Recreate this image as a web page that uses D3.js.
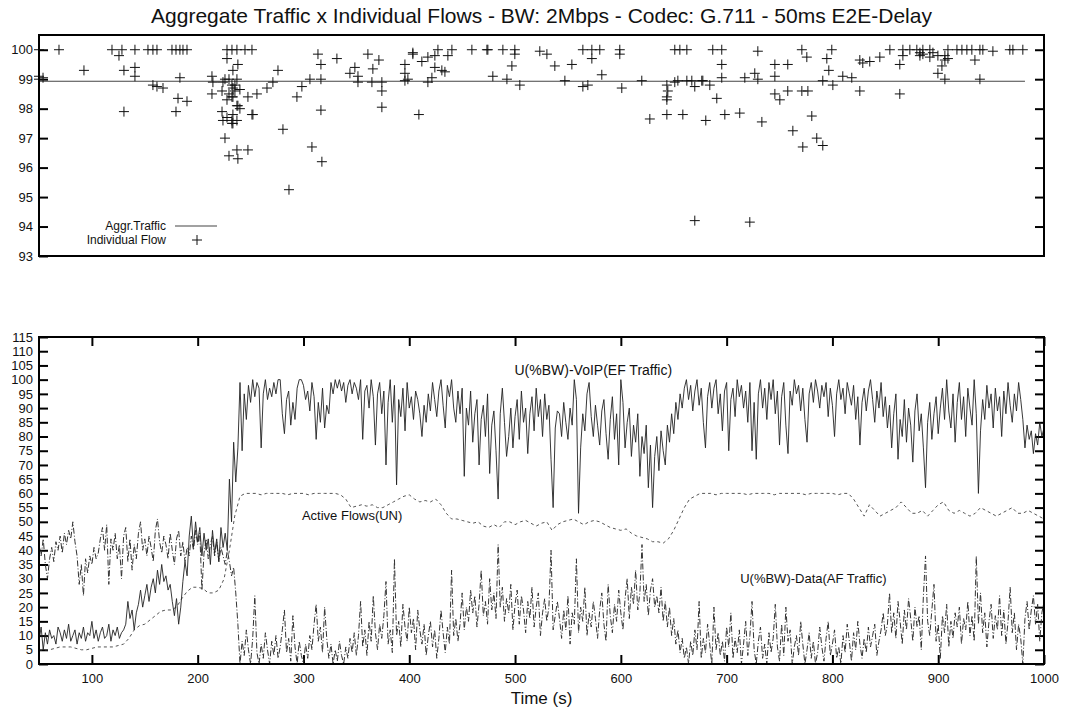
<!DOCTYPE html>
<html>
<head>
<meta charset="utf-8">
<script src="https://cdn.jsdelivr.net/npm/d3@7"></script>
<style>
  body { margin: 0; background: #fff; }
  svg { display: block; font-family: "Liberation Sans", Arial, Helvetica, sans-serif; }
</style>
</head>
<body>
<svg id="chart" width="1083" height="713"></svg>
<script>
// ---------------- data ----------------
const chartTitle = "Aggregate Traffic x Individual Flows - BW: 2Mbps - Codec: G.711 - 50ms E2E-Delay";
const timeStart = 50;
const sampleStep = 2;   // seconds between utilisation samples
const flowStep = 5;     // seconds between active-flow samples

// U(%BW) of VoIP (EF) traffic, one value every 2 s from t = 50 s
const voipUtil = [
  8,13,5,11,7,12,9,10,7,13, 11,8,12,9,14,8,10,12,7,11, 9,13,8,11,10,15,9,12,8,11, 13,9,10,14,8,12,10,13,9,11, 12,
  14,22,16,19,12,18,21,26,20,24, 28,22,27,30,25,33,28,35,29,31, 26,28,22,17,23,14,20,29,36,31, 45,52,41,50,43,48,38,46,40,44, 35,47,39,44,36,48,41,46,40,
  65,50,78,64,76,99,75,95,86,98,92,
  100,94,99,97,76,95,100,93,97,94, 99,95,100,100,88,81,93,96,84,92, 86,97,100,100,98,93,96,89,99,94, 79,92,85,97,83,91,88,99,95,100,
  97,100,96,99,92,98,100,95,99,97, 93,100,79,96,98,90,100,94,77,95, 99,88,96,70,92,100,85,98,63,93, 87,97,82,99,90,94,86,96,93,88,
  80,91,85,95,89,99,93,87,96,100, 91,83,98,94,100,90,85,96,88,97,
  66,90,84,96,78,88,93,70,86,91, 80,95,67,84,89,75,58,88,97,85, 73,80,90,76,87,93,79,96,85,90, 74,88,94,82,97,87,93,80,95,86, 91,72,55,83,89,
  88,80,92,85,79,90,84,100,93,53, 76,88,82,95,99,87,80,91,84,77, 89,93,81,72,86,94,79,88,70,100, 92,76,85,90,73,84,78,88,66,80, 74,84,62,77,55,73,80,68,82,75, 70,84,78,88,81,92,86,95,90,97,
  100,93,98,89,96,100,91,97,85,76, 94,99,90,97,100,88,95,82,96,99, 75,93,97,87,100,94,98,90,96,85, 99,75,92,72,95,100,90,97,86,99,
  93,100,88,96,77,94,99,84,74,96, 91,100,95,98,89,97,86,78,95,99, 92,100,96,90,98,94,99,87,97,91, 80,95,100,93,97,88,99,95,91,98,
  86,94,77,92,97,89,96,100,93,85, 96,90,99,87,94,
  83,91,76,88,95,72,86,80,93,78, 90,84,71,89,95,82,88,76,62,85, 92,79,88,94,81,90,97,86,100,89, 83,95,78,92,99,86,94,80,97,90,
  84,100,88,60,82,93,86,98,90,95, 83,97,89,94,80,96,88,99,91,85, 95,89,99,93,86,76,84,79,82,74, 81,77,85,80,83
];

// U(%BW) of data (AF) traffic, one value every 2 s from t = 50 s
const dataUtil = [
  42,38,44,35,30,37,41,36,43,40, 45,39,46,42,47,44,50,43,38,28, 35,24,37,32,38,35,41,37,39,44, 48,40,49,28,44,40,46,37,42,30,45,
  48,36,44,33,42,37,46,50,40,44, 38,45,41,36,47,51,43,39,45,42, 37,46,40,35,44,47,38,43,36,41, 38,45,40,47,42,46,26,39,44,37, 42,45,38,43,36,41,38,35,40,36, 31,34,25,
  14,0,8,3,12,5,0,9,24,4, 0,7,2,11,5,0,8,3,10,2, 6,12,19,4,9,1,17,6,0,8, 3,0,7,2,10,5,14,21,8,13, 4,20,9,2,7,0,5,1,8,3, 0,6,2,9,4,11,3,
  10,22,6,12,3,15,8,24,11,5, 14,9,17,29,7,12,4,37,10,15, 6,21,13,8,20,11,16,5,19,12, 7,14,3,10,15,6,12,2,9,19, 11,4,13,7,33,10,16,8,14,25,
  12,20,15,26,18,24,13,21,33,17, 22,14,30,19,25,16,42,20,27,15, 23,18,28,12,21,26,14,24,19,11, 22,16,27,13,20,25,10,18,23,15, 20,40,12,17,22,
  16,9,19,12,24,7,18,14,37,11, 20,15,27,10,18,13,22,16,9,19, 25,14,8,28,17,11,21,15,26,18, 12,23,30,16,27,21,33,19,25,42, 22,28,17,26,30,20,24,18,27,15, 22,13,20,10,16,7,12,4,9,2,
  6,0,8,3,12,5,22,2,9,4, 14,7,0,20,5,11,3,8,1,13, 6,18,2,9,4,12,0,7,15,3, 10,22,5,0,8,13,2,7,0,11, 4,9,21,6,1,14,3,20,8,12,
  0,6,10,3,15,7,0,5,11,2, 8,0,4,13,6,1,9,15,3,7, 12,2,6,0,10,4,14,8,1,11, 5,15,7,2,9,4,13,6,10,14, 3,8,12,18,10,
  14,25,11,18,9,22,15,7,19,12, 23,16,8,20,13,17,5,24,38,15, 10,19,28,8,14,2,17,11,21,6, 15,9,18,13,20,7,16,12,22,10,
  17,8,38,14,25,11,18,6,15,21, 9,17,12,24,10,19,7,15,27,11, 18,5,14,9,0,16,22,12,19,24, 14,21,8,18,22
];

// Number of active flows (UN), one value every 5 s from t = 50 s
const activeFlows = [
  5,5,5,5.5,6,6,6,5.5,5,5, 5.5,6,6,6,6,6.5,7,9,12,13.5, 14,15.5,17,18.5,19,19,20,23,25.5,27, 27,26.5,25,25,26,30,40,52,59,60,
  60,60,59.5,60,60,60,60,59.5,60,60, 60,59.5,60,60,60,60,60,59.5,
  58,55,55.5,56,55.5,56,55,55,56,57, 58,59,59.5,58,57,57.5,57,58,56,53, 51,51,50.5,50,49.5,50,48.5,48,49,48, 50,50,49,50,50.5,49.5,48.5,49.5,50,47,
  49,50,50.5,51,50,49,50,50.5,50,49, 48,47.5,47,47.5,46,45,44.5,44,43,43, 42.5,44,47,51,55,58,59,60,
  60,60,59.5,60,60,60,60,60,59.5,60, 60,60,60,59.5,60,60,60,60,60,59.5, 60,60,60,60,60,59.5,60,60,
  58,55,52,56,54,52,53,54,55,57, 55,53,53,54,52,54,56,57,54,53, 54,53,52,53,55,54,53,52,53,54, 55,53,53,54,53,52,51
];

// Aggregate traffic level and the time span it is drawn over
const aggrLevel = 98.93;
const aggrSpan = [50, 982];

// Individual flows (time in s, value in %)
const flowTimes = [
  50,50,50,53.8,68.9,92.5,119,125.6,128.4,130.3,130.3,140.7,140.7,140.7,153,157.7,157.7,161.5,161.5,167.2,
  175.7,179.5,179.5,181.4,183.2,183.2,186.1,189.9,189.9,213.5,213.5,214.4,223,223,223.9,223.9,225.8,225.8,227.7,227.7,
  227.7,227.7,229.6,229.6,229.6,232.4,232.4,232.4,232.4,232.4,233.3,233.3,233.3,233.3,233.3,235.2,235.2,237.1,237.1,237.1,
  237.1,237.1,238,238,238,239.9,239.9,244.7,247.5,247.5,251.3,251.3,252.2,256,265.5,271.1,275.9,280.6,286.3,293.8,
  298.5,306.1,308,313.7,316.5,316.5,316.5,317.4,331.6,343.9,348.6,351.5,351.5,360.9,364.7,365.6,371.3,374.1,374.1,374.1,
  395.9,395.9,395.9,398.7,403.4,403.4,409.1,411.9,417.6,417.6,421.4,424.2,424.2,427.1,430.8,433.7,436.5,440.3,459.2,473.4,
  474.3,479,488.5,492.3,497,499.8,499.8,504.5,523.4,530.1,537.6,547.1,553.7,564.1,564.1,568.8,572.6,572.6,580.1,582,
  599,599,600.9,619.8,627.4,643.5,643.5,643.5,643.5,644.4,651,651,653.9,655.8,658.6,662.4,662.4,667.1,669.9,669.9,
  676.5,677.5,680.3,684.1,686.9,690.7,695.4,695.4,695.4,698.3,712.4,717.2,721.9,726.6,729.5,729.5,733.3,745.6,745.6,745.6,
  750.3,757.8,757.8,762.6,771.1,771.1,772,775.8,776.8,780.5,785.2,790.9,790.9,794.7,796.6,799.4,800.4,809.8,818.3,825.9,
  825.9,828.7,835.3,844.8,854.3,863.7,863.7,866.6,866.6,873.2,879.8,882.7,882.7,885.5,885.5,892.1,892.1,895,899.7,899.7,
  903.5,906.3,906.3,906.3,909.2,909.2,917.7,922.4,927.1,931.8,934.7,939.4,939.4,942.2,951.7,967.7,970.6,980
];
const flowValues = [
  100,99.1,99,99.05,100,99.3,100,99.8,100,99.3,97.9,100,99.4,99.1,100,100,98.8,100,98.75,98.7,
  100,100,97.9,98.35,100,99.05,100,100,98.25,99.1,98.5,98.9,98.6,97.9,98.9,97.6,97,99,100,99.7,
  98.3,97.7,96.4,99,98.5,100,98.8,98.4,97.6,97.5,99.3,98.7,98.4,97.8,97.5,98.8,98.6,100,99,98.1,
  96.6,97.6,99.5,98.1,96.3,98,98.65,100,96.6,98.4,100,97.8,97.8,98.5,98.7,98.9,99.3,97.3,95.25,98.4,
  98.75,99,96.7,99.85,99.5,99,97.95,96.2,99.7,99.2,99.4,99.1,98.9,99.85,98.9,99.35,99.65,98.6,98.05,98.9,
  99.5,99.2,98.95,99,99.85,99.9,97.8,99.6,99.75,98.9,99.05,99.8,99.4,100,99.3,99.25,99.8,100,100,100,
  100,99.1,100,99,99.45,100,99.85,98.8,99.95,99.85,99.45,98.95,99.5,100,98.75,98.8,100,99.7,100,99.15,
  100,99.85,98.7,98.95,97.65,98.8,98.3,98.4,97.8,98.6,100,98.9,98.95,100,97.8,100,98.95,98.95,98.75,94.2,
  98.95,98.95,97.6,98.8,100,98.35,99.5,100,99.05,97.8,97.85,99.05,94.15,99.2,99.95,99,97.55,99.5,98.5,99.1,
  98.3,99.5,98.6,97.25,100,98.6,96.7,99.75,98.6,97.75,97,96.75,98.95,99.7,99.3,100,98.8,99.1,99.05,99.65,
  98.6,99.55,99.6,99.75,100,99.5,98.5,99.8,100,100,100,99.9,99.8,100,99.85,99.75,100,99.9,99.2,99.8,
  99.45,99,99.8,99.65,99.7,100,100,100,100,100,99.65,100,99,100,99.95,100,100,100
];

const topTicks = [93, 94, 95, 96, 97, 98, 99, 100];
const bottomTicks = [0,5,10,15,20,25,30,35,40,45,50,55,60,65,70,75,80,85,90,95,100,105,110,115];
const timeTicks = [100, 200, 300, 400, 500, 600, 700, 800, 900, 1000];

// ---------------- layout ----------------
const svg = d3.select("#chart");
const left = 39, right = 1044;
const topPanel = { y0: 35, y1: 256 };
const botPanel = { y0: 337, y1: 664 };
const tickLen = 9;

const x = d3.scaleLinear().domain([50, 1000]).range([left, right]);
const yTop = d3.scaleLinear().domain([93, 100.5]).range([topPanel.y1, topPanel.y0]);
const yBot = d3.scaleLinear().domain([0, 115]).range([botPanel.y1, botPanel.y0]);

const series = (arr, step) => arr.map((v, i) => ({ t: timeStart + i * step, v }));
const intFmt = d3.format("d");

// title
svg.append("text")
  .attr("x", (left + right) / 2).attr("y", 23)
  .attr("text-anchor", "middle").attr("font-size", 21).attr("fill", "#111")
  .text(chartTitle);

function styleAxis(g, size) {
  g.select(".domain").remove();
  g.selectAll(".tick line").attr("stroke", "#000").attr("stroke-width", 2);
  g.selectAll(".tick text").attr("font-size", size).attr("fill", "#111")
    .attr("font-family", "Liberation Sans, Arial, sans-serif");
}

// ---------- top panel ----------
const gTop = svg.append("g");
gTop.append("g").attr("transform", `translate(${left},0)`)
  .call(d3.axisLeft(yTop).tickValues(topTicks).tickSize(-tickLen).tickPadding(6).tickFormat(intFmt))
  .call(g => styleAxis(g, 13));
gTop.append("g").attr("transform", `translate(${right},0)`)
  .call(d3.axisRight(yTop).tickValues(topTicks.filter(d => d > 93)).tickSize(-tickLen).tickFormat(""))
  .call(g => styleAxis(g, 13));

gTop.append("line")
  .attr("x1", x(aggrSpan[0])).attr("x2", x(aggrSpan[1]))
  .attr("y1", yTop(aggrLevel)).attr("y2", yTop(aggrLevel))
  .attr("stroke", "#444").attr("stroke-width", 1.2);

const plusPath = "M-5,0H5M0,-5V5";
gTop.append("g").selectAll("path")
  .data(flowTimes.map((t, i) => ({ t, v: flowValues[i] })))
  .join("path")
  .attr("transform", d => `translate(${x(d.t)},${yTop(d.v)})`)
  .attr("d", plusPath).attr("stroke", "#111").attr("stroke-width", 1).attr("fill", "none");

// legend
const lg = gTop.append("g").attr("font-size", 12).attr("fill", "#111");
lg.append("text").attr("x", 166).attr("y", 230).attr("text-anchor", "end").text("Aggr.Traffic");
lg.append("line").attr("x1", 175).attr("x2", 217).attr("y1", 226).attr("y2", 226)
  .attr("stroke", "#444").attr("stroke-width", 1.2);
lg.append("text").attr("x", 166).attr("y", 244).attr("text-anchor", "end").text("Individual Flow");
lg.append("path").attr("transform", "translate(197,240)").attr("d", plusPath)
  .attr("stroke", "#111").attr("stroke-width", 1);

gTop.append("rect").attr("x", left).attr("y", topPanel.y0)
  .attr("width", right - left).attr("height", topPanel.y1 - topPanel.y0)
  .attr("fill", "none").attr("stroke", "#000").attr("stroke-width", 2);

// ---------- bottom panel ----------
const gBot = svg.append("g");
svg.append("clipPath").attr("id", "botClip").append("rect")
  .attr("x", left).attr("y", botPanel.y0).attr("width", right - left).attr("height", botPanel.y1 - botPanel.y0);

gBot.append("g").attr("transform", `translate(${left},0)`)
  .call(d3.axisLeft(yBot).tickValues(bottomTicks).tickSize(-tickLen).tickPadding(6).tickFormat(intFmt))
  .call(g => styleAxis(g, 13));
gBot.append("g").attr("transform", `translate(${right},0)`)
  .call(d3.axisRight(yBot).tickValues(bottomTicks).tickSize(-tickLen).tickFormat(""))
  .call(g => styleAxis(g, 13));
gBot.append("g").attr("transform", `translate(0,${botPanel.y1})`)
  .call(d3.axisBottom(x).tickValues(timeTicks).tickSize(-tickLen).tickPadding(10).tickFormat(intFmt))
  .call(g => styleAxis(g, 13));
gBot.append("g").attr("transform", `translate(0,${botPanel.y0})`)
  .call(d3.axisTop(x).tickValues(timeTicks).tickSize(-tickLen).tickFormat(""))
  .call(g => styleAxis(g, 13));

const line = d3.line().x(d => x(d.t)).y(d => yBot(d.v));
const plot = gBot.append("g").attr("clip-path", "url(#botClip)").attr("fill", "none");

plot.append("path").datum(series(activeFlows, flowStep)).attr("d", line)
  .attr("stroke", "#555").attr("stroke-width", 1).attr("stroke-dasharray", "3,3");
plot.append("path").datum(series(dataUtil, sampleStep)).attr("d", line)
  .attr("stroke", "#333").attr("stroke-width", 1).attr("stroke-dasharray", "6,2,1,2");
plot.append("path").datum(series(voipUtil, sampleStep)).attr("d", line)
  .attr("stroke", "#222").attr("stroke-width", 0.9);

const notes = gBot.append("g").attr("fill", "#111").attr("text-anchor", "middle");
notes.append("text").attr("font-size", 14).attr("x", x(574)).attr("y", yBot(101.5)).text("U(%BW)-VoIP(EF Traffic)");
notes.append("text").attr("font-size", 13).attr("x", x(346)).attr("y", yBot(50.5)).text("Active Flows(UN)");
notes.append("text").attr("font-size", 13).attr("x", x(782)).attr("y", yBot(28.5)).text("U(%BW)-Data(AF Traffic)");

gBot.append("rect").attr("x", left).attr("y", botPanel.y0)
  .attr("width", right - left).attr("height", botPanel.y1 - botPanel.y0)
  .attr("fill", "none").attr("stroke", "#000").attr("stroke-width", 2);

svg.append("text").attr("x", (left + right) / 2).attr("y", 704)
  .attr("text-anchor", "middle").attr("font-size", 17).attr("fill", "#111").text("Time (s)");
</script>
</body>
</html>
